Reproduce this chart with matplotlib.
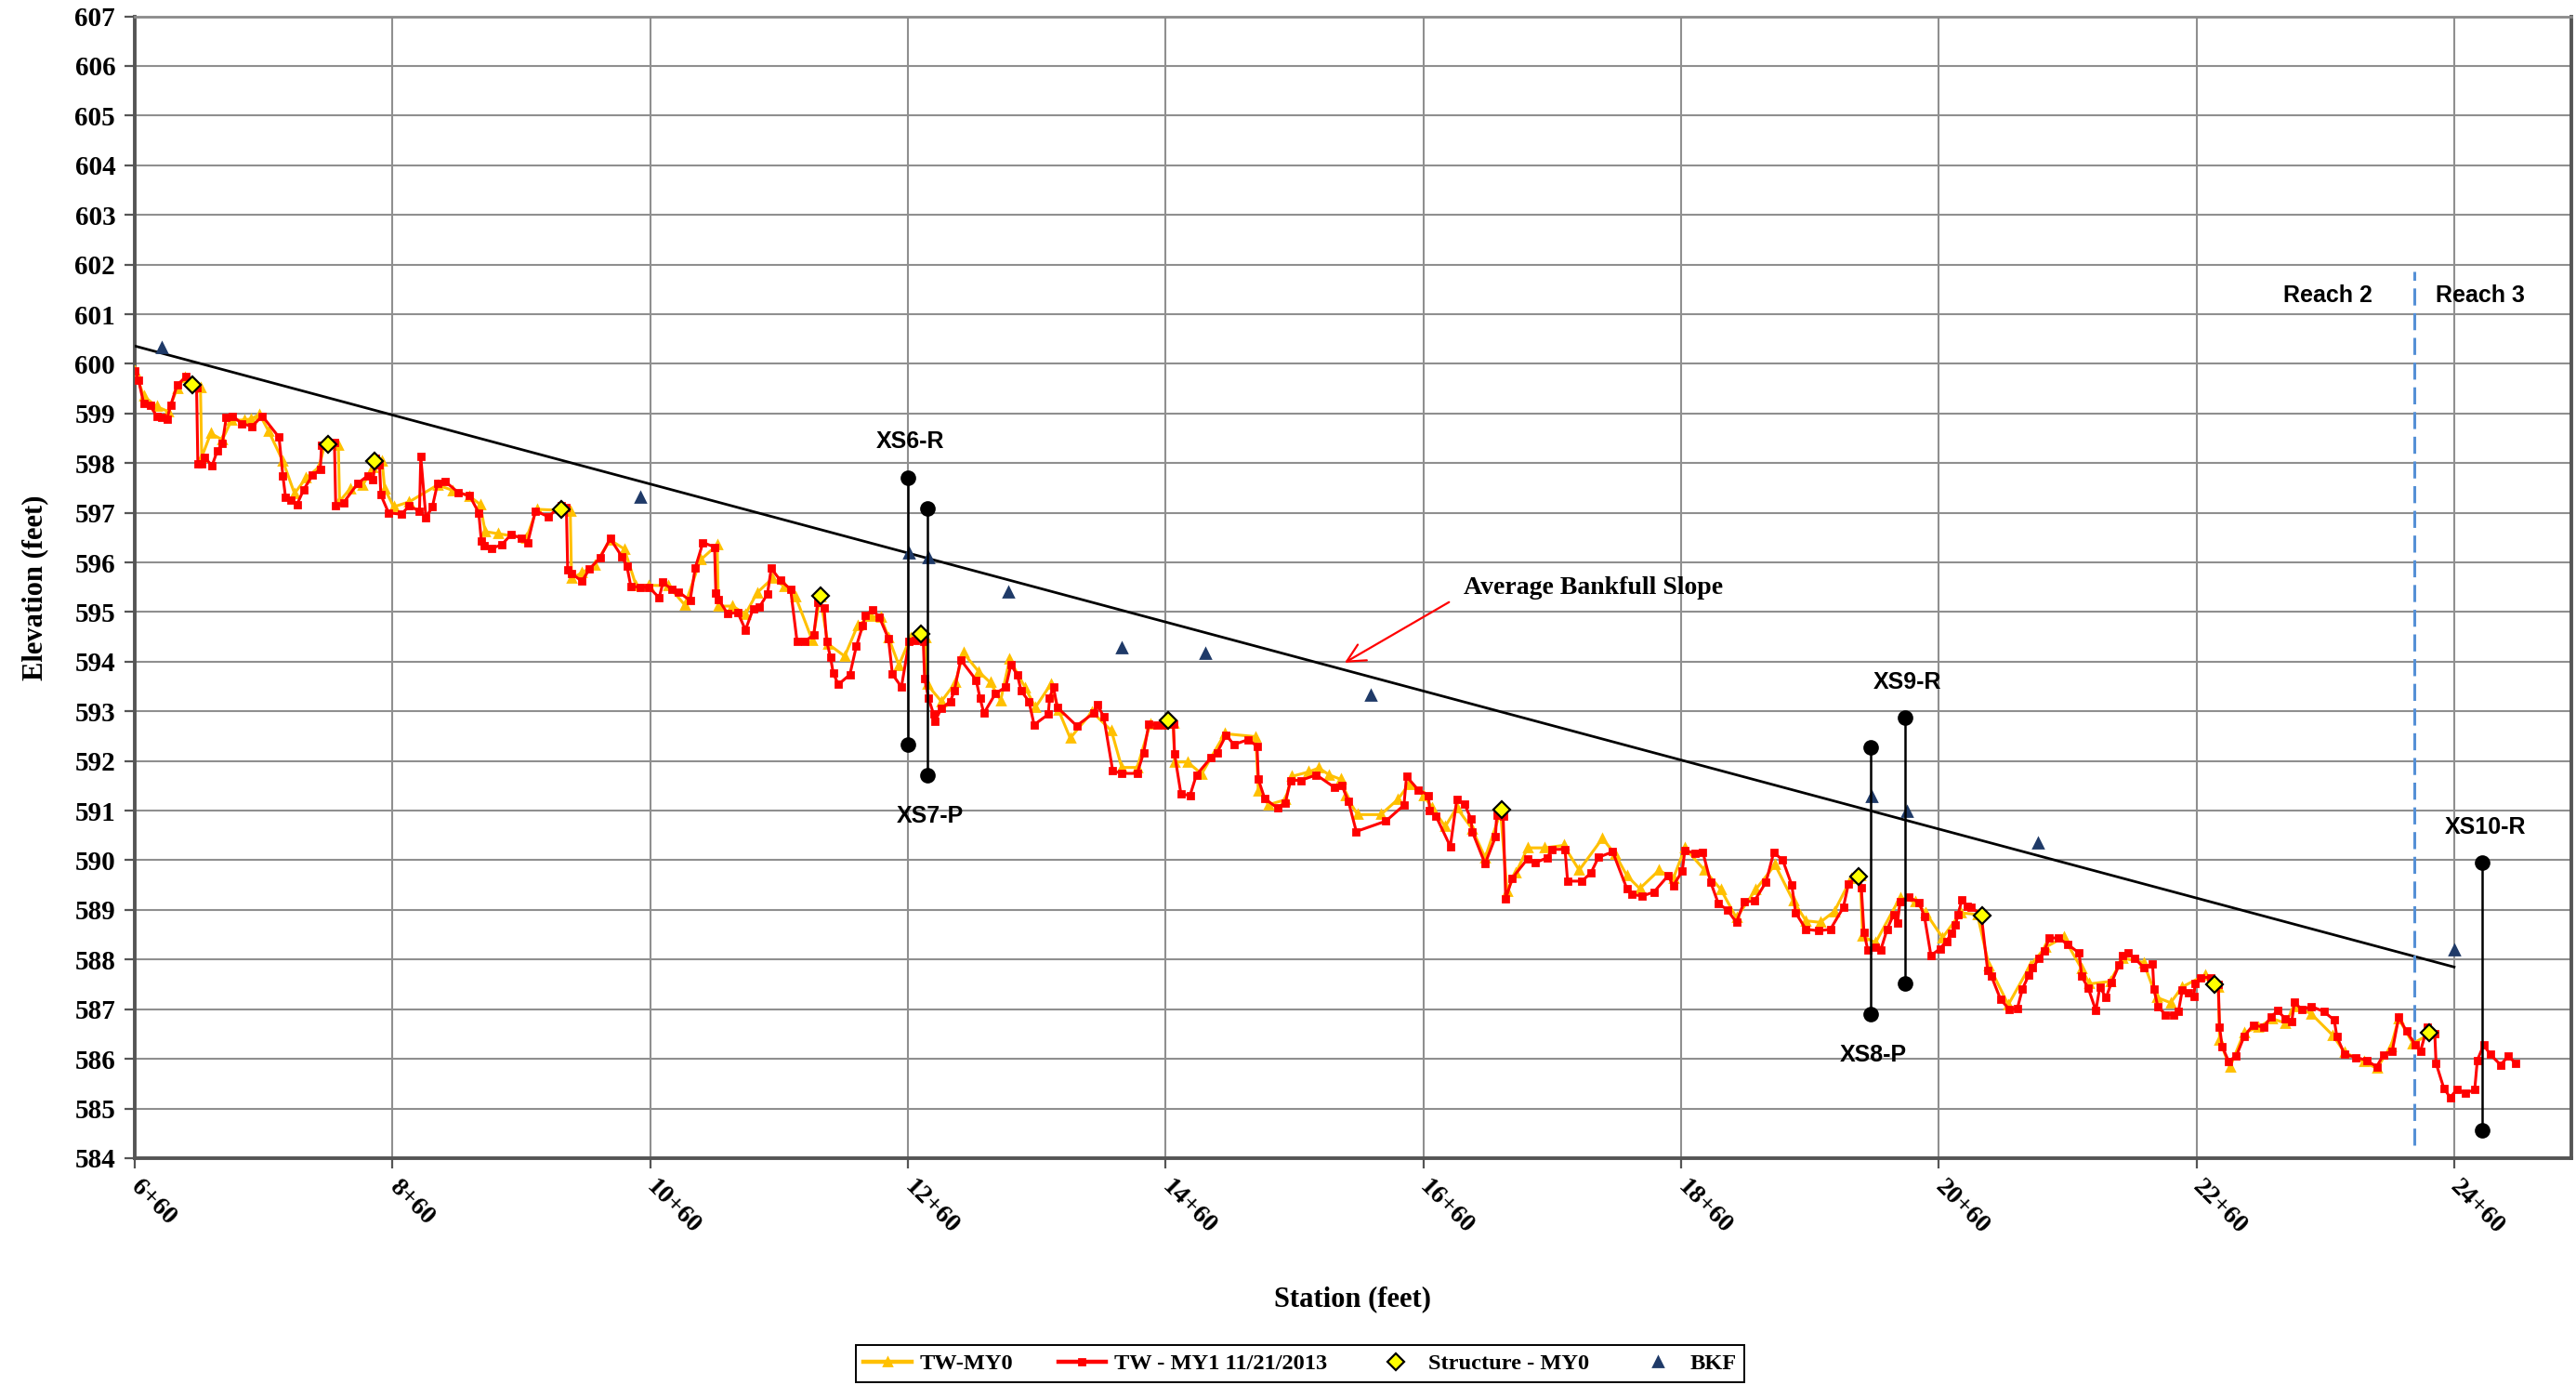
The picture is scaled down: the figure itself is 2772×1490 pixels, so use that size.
import matplotlib
matplotlib.use("Agg")
import matplotlib.pyplot as plt
from matplotlib.lines import Line2D

# ---------------- data ----------------
my1_station = [660, 663, 667, 672, 677, 681, 685, 688, 693, 700, 708, 709, 712, 714, 720, 724, 728, 731, 736, 743,
               751, 759, 772, 775, 777, 781, 786, 791, 798, 804, 805, 810, 815, 816, 822, 833, 841, 845, 847, 850,
               851, 857, 867, 873, 881, 882, 886, 891, 895, 901, 911, 920, 927, 929, 931, 937, 945, 952, 960, 965,
               971, 981, 991, 995, 996, 999, 1007, 1013, 1021, 1029, 1038, 1042, 1045, 1052, 1059, 1067, 1070, 1077,
               1082, 1091, 1095, 1101, 1110, 1111, 1113, 1120, 1128, 1134, 1140, 1145, 1151, 1154, 1161, 1169, 1174,
               1180, 1187, 1190, 1195, 1197, 1200, 1202, 1206, 1215, 1220, 1225, 1227, 1233, 1238, 1245, 1248, 1255,
               1261, 1266, 1272, 1273, 1276, 1280, 1281, 1286, 1293, 1296, 1301, 1313, 1316, 1319, 1328, 1336, 1340,
               1345, 1348, 1354, 1358, 1369, 1370, 1373, 1376, 1391, 1404, 1407, 1412, 1419, 1426, 1438, 1443, 1447,
               1453, 1459, 1466, 1467, 1472, 1479, 1484, 1495, 1500, 1507, 1513, 1524, 1531, 1532, 1537, 1547, 1553,
               1557, 1565, 1577, 1591, 1597, 1602, 1608, 1631, 1645, 1647, 1656, 1664, 1665, 1670, 1681, 1686, 1692,
               1697, 1698, 1708, 1716, 1717, 1722, 1724, 1729, 1741, 1747, 1756, 1760, 1770, 1772, 1783, 1790, 1796,
               1807, 1818, 1822, 1830, 1839, 1850, 1854, 1861, 1863, 1871, 1877, 1883, 1889, 1896, 1903, 1909, 1917,
               1926, 1932, 1939, 1946, 1949, 1957, 1967, 1976, 1986, 1990, 1998, 2000, 2002, 2005, 2011, 2015, 2020,
               2025, 2028, 2030, 2037, 2045, 2049, 2054, 2061, 2066, 2070, 2073, 2075, 2078, 2082, 2085, 2093, 2098,
               2101, 2108, 2115, 2121, 2125, 2130, 2133, 2138, 2142, 2146, 2153, 2160, 2169, 2171, 2176, 2182, 2185,
               2190, 2194, 2200, 2203, 2207, 2212, 2219, 2226, 2227, 2230, 2236, 2242, 2246, 2249, 2254, 2258, 2259,
               2263, 2271, 2277, 2278, 2280, 2285, 2291, 2297, 2304, 2312, 2318, 2323, 2329, 2334, 2336, 2342, 2349,
               2359, 2367, 2369, 2375, 2384, 2392, 2400, 2405, 2412, 2417, 2423, 2430, 2434, 2439, 2445, 2446, 2452,
               2457, 2462, 2469, 2476, 2478, 2483, 2488, 2496, 2502, 2508]
my1_elev = [599.86, 599.67, 599.20, 599.16, 598.95, 598.93, 598.89, 599.17, 599.58, 599.74, 599.53, 597.98, 597.98,
            598.12, 597.95, 598.24, 598.39, 598.92, 598.95, 598.80, 598.74, 598.95, 598.52, 597.74, 597.32, 597.26,
            597.17, 597.46, 597.76, 597.87, 598.36, 598.38, 598.41, 597.14, 597.20, 597.59, 597.75, 597.67, 598.10,
            597.97, 597.36, 597.00, 596.97, 597.14, 597.03, 598.13, 596.90, 597.12, 597.59, 597.63, 597.41, 597.34,
            597.00, 596.43, 596.34, 596.28, 596.36, 596.56, 596.49, 596.40, 597.04, 596.92, 597.15, 597.11, 595.86,
            595.78, 595.62, 595.87, 596.09, 596.48, 596.12, 595.92, 595.52, 595.50, 595.50, 595.29, 595.60, 595.45,
            595.41, 595.23, 595.89, 596.40, 596.31, 595.39, 595.26, 594.97, 594.99, 594.64, 595.07, 595.11, 595.36,
            595.88, 595.64, 595.46, 594.41, 594.41, 594.54, 595.19, 595.08, 594.41, 594.09, 593.78, 593.54, 593.74,
            594.31, 594.73, 594.94, 595.04, 594.89, 594.46, 593.75, 593.49, 594.41, 594.42, 594.41, 593.66, 593.27,
            592.94, 592.80, 593.06, 593.20, 593.41, 594.04, 593.63, 593.27, 592.96, 593.36, 593.49, 593.94, 593.73,
            593.41, 593.20, 592.73, 592.94, 593.27, 593.49, 593.08, 592.71, 592.96, 593.14, 592.89, 591.80, 591.75,
            591.75, 592.17, 592.74, 592.73, 592.73, 592.75, 592.14, 591.33, 591.31, 591.72, 592.06, 592.17, 592.52,
            592.33, 592.43, 592.30, 591.63, 591.24, 591.05, 591.16, 591.61, 591.61, 591.72, 591.47, 591.50, 591.18,
            590.58, 590.79, 591.11, 591.69, 591.42, 591.31, 591.00, 590.88, 590.28, 591.22, 591.14, 590.83, 590.58,
            589.93, 590.47, 590.91, 590.88, 589.22, 589.64, 590.03, 589.95, 590.05, 590.22, 590.22, 589.58, 589.58,
            589.74, 590.06, 590.17, 589.43, 589.31, 589.28, 589.36, 589.69, 589.49, 589.78, 590.20, 590.14, 590.16,
            589.56, 589.13, 589.00, 588.75, 589.16, 589.18, 589.56, 590.16, 590.00, 589.50, 588.94, 588.61, 588.58,
            588.61, 589.05, 589.53, 589.69, 589.44, 588.55, 588.19, 588.25, 588.19, 588.61, 588.91, 588.74, 589.16,
            589.26, 589.14, 588.86, 588.08, 588.22, 588.37, 588.53, 588.69, 588.91, 589.20, 589.07, 589.05, 588.91,
            587.78, 587.66, 587.20, 586.99, 587.01, 587.41, 587.69, 587.83, 588.03, 588.18, 588.44, 588.43, 588.31,
            588.13, 587.66, 587.43, 586.97, 587.44, 587.24, 587.53, 587.89, 588.09, 588.14, 588.03, 587.84, 587.91,
            587.41, 587.06, 586.89, 586.89, 586.95, 587.38, 587.34, 587.26, 587.51, 587.64, 587.64, 587.50, 586.64,
            586.25, 585.95, 586.06, 586.45, 586.68, 586.64, 586.84, 586.97, 586.81, 586.75, 587.14, 586.99, 587.06,
            586.95, 586.78, 586.45, 586.09, 586.03, 585.97, 585.84, 586.08, 586.16, 586.84, 586.56, 586.28, 586.16,
            586.63, 586.50, 585.91, 585.41, 585.22, 585.38, 585.31, 585.38, 585.97, 586.28, 586.09, 585.88, 586.05,
            585.91]

my0_station = [660, 667, 677, 686, 693, 699, 711, 712, 719, 728, 735, 745, 750, 757, 764, 775, 784, 793, 803, 808,
               818, 819, 827, 837, 845, 852, 854, 861, 873, 895, 907, 920, 928, 932, 942, 964, 972, 998, 999, 1007,
               1017, 1029, 1040, 1049, 1059, 1074, 1087, 1099, 1112, 1113, 1124, 1134, 1143, 1155, 1164, 1173, 1186,
               1192, 1198, 1211, 1221, 1231, 1239, 1245, 1253, 1262, 1274, 1275, 1286, 1297, 1303, 1315, 1324, 1332,
               1339, 1351, 1359, 1371, 1377, 1386, 1403, 1418, 1426, 1438, 1448, 1466, 1467, 1477, 1488, 1506, 1530,
               1532, 1540, 1553, 1558, 1571, 1579, 1587, 1596, 1600, 1609, 1627, 1640, 1649, 1660, 1667, 1677, 1686,
               1698, 1708, 1720, 1725, 1732, 1741, 1754, 1769, 1781, 1799, 1809, 1818, 1828, 1843, 1854, 1863, 1878,
               1891, 1903, 1918, 1933, 1947, 1957, 1968, 1979, 1992, 1999, 2001, 2011, 2030, 2042, 2050, 2063, 2077,
               2090, 2099, 2114, 2131, 2143, 2157, 2171, 2177, 2193, 2203, 2219, 2229, 2240, 2249, 2267, 2277, 2278,
               2286, 2297, 2308, 2319, 2329, 2336, 2349, 2366, 2375, 2390, 2400, 2411, 2417, 2428, 2441]
my0_elev = [599.86, 599.35, 599.14, 599.04, 599.51, 599.73, 599.53, 598.12, 598.60, 598.47, 598.86, 598.87, 598.89,
            598.98, 598.64, 598.04, 597.39, 597.70, 597.92, 598.42, 598.36, 597.23, 597.48, 597.56, 597.92, 598.04,
            597.48, 597.12, 597.22, 597.56, 597.45, 597.33, 597.17, 596.62, 596.58, 596.49, 597.07, 597.04, 595.68,
            595.79, 595.95, 596.45, 596.27, 595.54, 595.54, 595.53, 595.14, 596.05, 596.35, 595.12, 595.12, 594.96,
            595.39, 595.68, 595.52, 595.30, 594.42, 595.30, 594.36, 594.11, 594.73, 594.91, 594.90, 594.49, 593.93,
            594.48, 594.48, 593.54, 593.20, 593.58, 594.18, 593.80, 593.58, 593.22, 594.05, 593.48, 593.08, 593.55,
            593.02, 592.46, 592.99, 592.61, 591.87, 591.87, 592.74, 592.77, 591.98, 591.98, 591.74, 592.55, 592.49,
            591.40, 591.12, 591.22, 591.69, 591.78, 591.86, 591.72, 591.63, 591.30, 590.92, 590.92, 591.22, 591.53,
            591.31, 591.06, 590.68, 591.06, 590.63, 590.05, 590.97, 589.38, 589.75, 590.25, 590.25, 590.30, 589.80,
            590.44, 590.12, 589.69, 589.43, 589.80, 589.63, 590.25, 589.81, 589.41, 588.84, 589.41, 589.91, 589.19,
            588.78, 588.75, 588.97, 589.63, 589.70, 588.47, 588.34, 589.25, 589.16, 588.94, 588.44, 588.94, 588.91,
            587.88, 587.09, 587.88, 588.25, 588.45, 587.81, 587.51, 587.56, 588.03, 587.94, 587.24, 587.13, 587.45,
            587.69, 587.44, 586.38, 585.83, 586.53, 586.63, 586.81, 586.72, 587.06, 586.91, 586.47, 586.13, 585.94,
            585.81, 586.25, 586.81, 586.31, 586.50]

structure_station = [705, 810, 846, 991, 1192, 1270, 1462, 1721, 1998, 2094, 2274, 2441]
structure_elev = [599.57, 598.37, 598.04, 597.06, 595.33, 594.56, 592.81, 591.02, 589.67, 588.88, 587.50, 586.52]

bkf_station = [681, 1052, 1261, 1276, 1338, 1426, 1491, 1619, 2008, 2035, 2137, 2460]
bkf_elev = [600.32, 597.32, 596.19, 596.09, 595.41, 594.28, 594.17, 593.32, 591.29, 590.99, 590.35, 588.19]

# average bankfull slope line end points
slope_station = [660, 2460]
slope_elev = [600.36, 587.85]

# cross sections: name, station, top elevation, bottom elevation
xs_names = ["XS6-R", "XS7-P", "XS8-P", "XS9-R", "XS10-R"]
xs_station = [1260, 1275, 2007, 2034, 2482]
xs_top = [597.71, 597.09, 592.28, 592.87, 589.95]
xs_bottom = [592.33, 591.71, 586.90, 587.51, 584.56]
xs_label_above = [True, False, False, True, True]

reach_break_station = 2429
reach_names = ["Reach 2", "Reach 3"]

tick_stations = [660, 860, 1060, 1260, 1460, 1660, 1860, 2060, 2260, 2460]
tick_labels = ["6+60", "8+60", "10+60", "12+60", "14+60", "16+60", "18+60", "20+60", "22+60", "24+60"]

# ---------------- figure ----------------
SERIF = ["Liberation Serif", "DejaVu Serif"]
SANS = ["Liberation Sans", "DejaVu Sans"]

fig = plt.figure(figsize=(13.86, 7.45), dpi=200)
ax = fig.add_axes([0.0523, 0.1638, 0.9459, 0.8244])

ax.set_xlim(660, 2551)
ax.set_ylim(584, 607)
ax.set_yticks(range(584, 608))
ax.set_xticks(tick_stations)
ax.set_xticklabels(tick_labels)
ax.grid(True, color="#8f8f8f", linewidth=0.75)
ax.set_axisbelow(True)

for side in ["left", "bottom", "right"]:
    ax.spines[side].set_color("#555555")
    ax.spines[side].set_linewidth(1.4)
ax.spines["top"].set_color("#8a8a8a")
ax.spines["top"].set_linewidth(1.0)

ax.tick_params(axis="both", direction="out", length=4, width=0.8, color="#555555")
for lab in ax.get_yticklabels():
    lab.set_fontfamily(SERIF)
    lab.set_fontweight("bold")
    lab.set_fontsize(10.5)
for lab in ax.get_xticklabels():
    lab.set_fontfamily(SERIF)
    lab.set_fontweight("bold")
    lab.set_fontsize(10)
    lab.set_rotation(-45)
    lab.set_ha("left")
    lab.set_va("center")
    lab.set_rotation_mode("anchor")
ax.tick_params(axis="x", pad=6)

ax.set_ylabel("Elevation (feet)", fontfamily=SERIF, fontweight="bold", fontsize=11, labelpad=10)
ax.set_xlabel("Station (feet)", fontfamily=SERIF, fontweight="bold", fontsize=11, labelpad=18)

# slope line
ax.plot(slope_station, slope_elev, color="black", linewidth=1.0, zorder=3)

# profiles
ax.plot(my0_station, my0_elev, color="#FFC000", linewidth=1.1, marker="^", markersize=2.6,
        zorder=4, label="TW-MY0")
ax.plot(my1_station, my1_elev, color="#FF0000", linewidth=1.1, marker="s", markersize=2.4,
        zorder=5, label="TW - MY1 11/21/2013")
ax.plot(structure_station, structure_elev, linestyle="none", marker="D", markersize=4.6,
        markerfacecolor="#FFFF00", markeredgecolor="black", markeredgewidth=0.8, zorder=7,
        label="Structure - MY0")
ax.plot(bkf_station, bkf_elev, linestyle="none", marker="^", markersize=3.4, color="#1F3A68",
        zorder=6, label="BKF")

# cross section markers
for name, st, top, bot, above in zip(xs_names, xs_station, xs_top, xs_bottom, xs_label_above):
    ax.plot([st, st], [bot, top], color="black", linewidth=0.9, marker="o", markersize=5,
            zorder=8)
    if above:
        ax.text(st + 2, top + 0.72, name, ha="center", va="center", fontfamily=SANS,
                fontweight="bold", fontsize=9, zorder=9)
    else:
        ax.text(st + 2, bot - 0.82, name, ha="center", va="center", fontfamily=SANS,
                fontweight="bold", fontsize=9, zorder=9)

# reach break
ax.plot([reach_break_station, reach_break_station], [584.27, 601.87], color="#5590D6",
        linewidth=1.1, dashes=(6, 2.7), zorder=3)
ax.text(2362, 601.37, reach_names[0], ha="center", va="center", fontfamily=SANS,
        fontweight="bold", fontsize=9)
ax.text(2480, 601.37, reach_names[1], ha="center", va="center", fontfamily=SANS,
        fontweight="bold", fontsize=9)

# slope annotation
ax.annotate("", xy=(1599, 593.98), xytext=(1680, 595.2),
            arrowprops=dict(arrowstyle="->,head_length=0.7,head_width=0.35", color="#FF0000",
                            linewidth=0.8, shrinkA=0, shrinkB=0), zorder=9)
ax.text(1691, 595.48, "Average Bankfull Slope", ha="left", va="center", fontfamily=SERIF,
        fontweight="bold", fontsize=10)

# legend
handles = [
    Line2D([], [], color="#FFC000", linewidth=1.6, marker="^", markersize=2.6),
    Line2D([], [], color="#FF0000", linewidth=1.6, marker="s", markersize=2.4),
    Line2D([], [], linestyle="none", marker="D", markersize=4.6, markerfacecolor="#FFFF00",
           markeredgecolor="black", markeredgewidth=0.8),
    Line2D([], [], linestyle="none", marker="^", markersize=3.4, color="#1F3A68"),
]
labels = ["TW-MY0", "TW - MY1 11/21/2013", "Structure - MY0", "BKF"]
leg = fig.legend(handles, labels, loc="center", bbox_to_anchor=(0.5047, 0.0154), ncol=4,
                 frameon=True, fancybox=False, edgecolor="black", framealpha=1,
                 prop={"family": SERIF, "weight": "bold", "size": 8.8},
                 handlelength=2.1, columnspacing=2.0, handletextpad=0.35,
                 borderpad=0.35)
leg.get_frame().set_linewidth(0.7)

fig.savefig("out.png", dpi=200)
